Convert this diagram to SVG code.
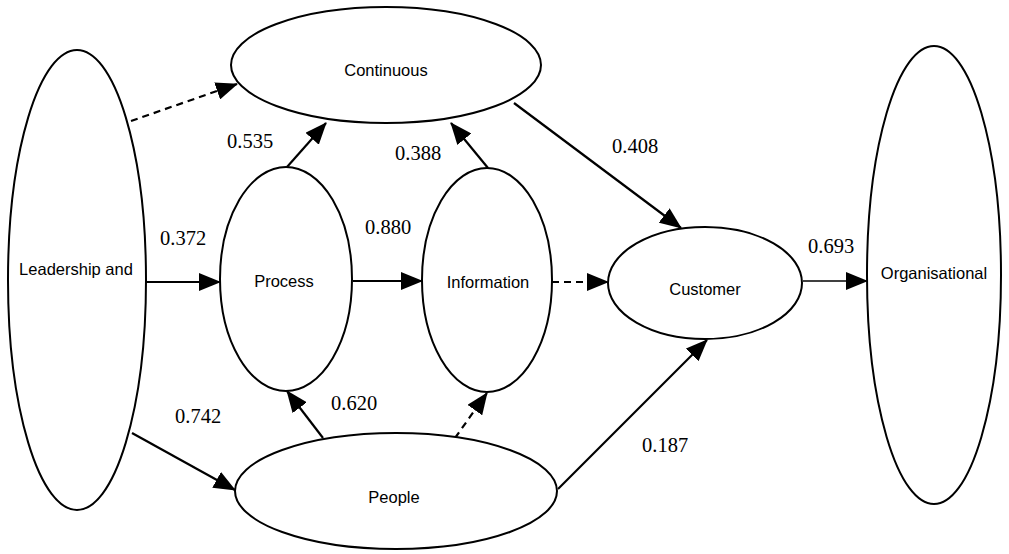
<svg xmlns="http://www.w3.org/2000/svg" width="1009" height="554" viewBox="0 0 1009 554">
<style>
.node ellipse{fill:#fff;stroke:#000;stroke-width:2}
.lbl{font-family:"Liberation Sans",Arial,sans-serif;font-size:16.5px;fill:#000}
.num{font-family:"Liberation Serif","Times New Roman",serif;font-size:20.5px;fill:#000}
.c{stroke:#000;stroke-width:2.2;fill:none;marker-end:url(#ah)}
.d{stroke-dasharray:7,5}
.t{stroke-width:1.4}
</style>
<defs>
<marker id="ah" markerUnits="userSpaceOnUse" markerWidth="22" markerHeight="18" viewBox="0 0 22 18" refX="21" refY="9" orient="auto">
<path d="M0,0 L22,9 L0,18 Z" fill="#000"/>
</marker>
</defs>
<rect width="1009" height="554" fill="#fff"/>
<g id="connectors">
<line class="c d" x1="131" y1="121" x2="237" y2="84"/>
<line class="c" x1="287" y1="167" x2="326" y2="123"/>
<line class="c" x1="488" y1="168" x2="451" y2="123"/>
<line class="c" x1="514" y1="103" x2="681" y2="228"/>
<line class="c" x1="145" y1="282" x2="220" y2="282"/>
<line class="c" x1="353" y1="281" x2="422" y2="281"/>
<line class="c d" x1="552" y1="282" x2="608" y2="282"/>
<line class="c t" x1="803" y1="281" x2="867" y2="281"/>
<line class="c" x1="132" y1="433" x2="235" y2="490"/>
<line class="c" x1="323" y1="438" x2="287" y2="391"/>
<line class="c d" x1="455" y1="438" x2="487" y2="393"/>
<line class="c" x1="558" y1="489" x2="707" y2="340"/>
</g>
<g id="leadership" class="node"><ellipse cx="77" cy="280" rx="69" ry="230"/><text class="lbl" x="76" y="275" text-anchor="middle">Leadership and</text></g>
<g id="continuous" class="node"><ellipse cx="386" cy="65" rx="155" ry="58"/><text class="lbl" x="386" y="76" text-anchor="middle">Continuous</text></g>
<g id="process" class="node"><ellipse cx="286" cy="279" rx="66" ry="112"/><text class="lbl" x="284" y="287" text-anchor="middle">Process</text></g>
<g id="information" class="node"><ellipse cx="487" cy="280" rx="65" ry="112"/><text class="lbl" x="488" y="288" text-anchor="middle">Information</text></g>
<g id="customer" class="node"><ellipse cx="705" cy="283" rx="97" ry="56"/><text class="lbl" x="705" y="295" text-anchor="middle">Customer</text></g>
<g id="organisational" class="node"><ellipse cx="934" cy="275" rx="67" ry="229"/><text class="lbl" x="934" y="279" text-anchor="middle">Organisational</text></g>
<g id="people" class="node"><ellipse cx="396" cy="491" rx="161" ry="58"/><text class="lbl" x="394" y="503" text-anchor="middle">People</text></g>
<g id="labels">
<text class="num" x="227" y="148">0.535</text>
<text class="num" x="395" y="160">0.388</text>
<text class="num" x="612" y="153">0.408</text>
<text class="num" x="160" y="245">0.372</text>
<text class="num" x="365" y="234">0.880</text>
<text class="num" x="808" y="253">0.693</text>
<text class="num" x="175" y="423">0.742</text>
<text class="num" x="331" y="410">0.620</text>
<text class="num" x="642" y="452">0.187</text>
</g>
</svg>
